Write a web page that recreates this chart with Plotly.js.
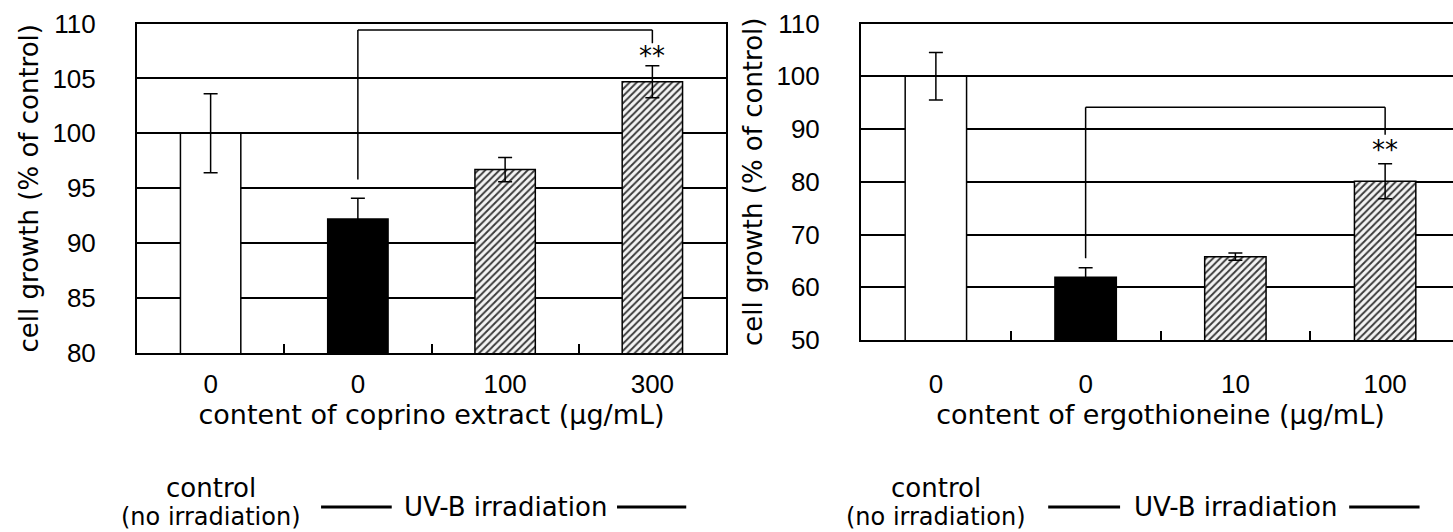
<!DOCTYPE html>
<html><head><meta charset="utf-8">
<script src="https://cdn.plot.ly/plotly-3.0.1.min.js"></script>
<style>html,body{margin:0;padding:0;overflow:hidden;background:#fff}#chart{width:1470px;height:532px}</style>
</head><body><div id="chart"></div>
<script>
// ---- data: left panel (coprino extract) ----
const categoriesA = ['control', 'UV 0', 'UV 100', 'UV 300'];
const tickLabelsA = ['0', '0', '100', '300'];
const valuesA = [100, 92.2, 96.7, 104.7];
const errorsA = [3.6, 1.9, 1.1, 1.45];
const bracketYA = [95.8, 109.4, 108.2];
const starYA = 107.0;

// ---- data: right panel (ergothioneine) ----
const categoriesB = ['control', 'UV 0', 'UV 10', 'UV 100'];
const tickLabelsB = ['0', '0', '10', '100'];
const valuesB = [100, 61.9, 65.8, 80.1];
const errorsB = [4.5, 1.8, 0.7, 3.3];
const bracketYB = [65.5, 94.1, 88.9];
const starYB = 86.1;

const yTitle = 'cell growth (% of control)';
const xTitleA = 'content of coprino extract (μg/mL)';
const xTitleB = 'content of ergothioneine (μg/mL)';

const W = 1470, H = 532;
const TXT = 'DejaVu Sans';
const NUM = 'Liberation Sans';

// one trace per bar style: control (white), UV only (black), UV + sample (hatched)
function barTraces(cats, vals, errs, xa, ya) {
  const styles = [
    {idx: [0], marker: {color: '#ffffff', line: {color: '#000', width: 1.5}}},
    {idx: [1], marker: {color: '#000000', line: {color: '#000', width: 1.5}}},
    {idx: [2, 3], marker: {color: '#ffffff', line: {color: '#000', width: 1.5},
      pattern: {shape: '/', fgcolor: '#3a3a3a', bgcolor: '#f4f4f4', size: 5, solidity: 0.38, fillmode: 'replace'}}}
  ];
  return styles.map(s => ({
    type: 'bar', x: s.idx.map(i => cats[i]), y: s.idx.map(i => vals[i]),
    xaxis: xa, yaxis: ya, width: 0.41, marker: s.marker,
    error_y: {type: 'data', array: s.idx.map(i => errs[i]), visible: true, color: '#000', thickness: 1.5, width: 7},
    showlegend: false, hoverinfo: 'skip'
  }));
}

function xAxis(dom, cats, labels, title, standoff) {
  return {
    domain: dom, type: 'category', categoryarray: cats, categoryorder: 'array', range: [-0.5, 3.5],
    tickmode: 'array', tickvals: cats, ticktext: labels, tickson: 'boundaries',
    ticks: 'inside', ticklen: 9, tickwidth: 2, tickcolor: '#000',
    showline: true, linecolor: '#000', linewidth: 2, mirror: true,
    showgrid: false, zeroline: false, fixedrange: true,
    tickfont: {family: NUM, size: 26, color: '#000'}, ticklabelstandoff: standoff,
    title: {text: title, font: {family: TXT, size: 27, color: '#000'}, standoff: 0}
  };
}

function yAxis(dom, range, dtick) {
  return {
    domain: dom, range: range, dtick: dtick, tick0: range[0],
    showgrid: true, gridcolor: '#000', gridwidth: 2,
    showline: true, linecolor: '#000', linewidth: 2, mirror: true,
    ticks: '', zeroline: false, fixedrange: true,
    tickfont: {family: NUM, size: 26, color: '#000'}, ticklabelstandoff: 34,
    title: {text: yTitle, font: {family: TXT, size: 26, color: '#000'}, standoff: 6}
  };
}

function bracket(cats, by, xr, yr) {
  const ln = {color: '#000', width: 1.5};
  return [
    {type: 'line', xref: xr, yref: yr, x0: cats[1], x1: cats[1], y0: by[0], y1: by[1], line: ln},
    {type: 'line', xref: xr, yref: yr, x0: cats[1], x1: cats[3], y0: by[1], y1: by[1], line: ln},
    {type: 'line', xref: xr, yref: yr, x0: cats[3], x1: cats[3], y0: by[1], y1: by[2], line: ln}
  ];
}

function groupLabels(cats, xr) {
  const f = {family: TXT, size: 26, color: '#000'};
  return [
    {xref: xr, yref: 'paper', x: cats[0], y: (H - 488) / H, text: 'control', showarrow: false, font: f, yanchor: 'middle'},
    {xref: xr, yref: 'paper', x: cats[0], y: (H - 517) / H, text: '(no irradiation)', showarrow: false, font: {family: TXT, size: 24, color: '#000'}, yanchor: 'middle'},
    {xref: xr, yref: 'paper', x: cats[2], y: (H - 507) / H, text: 'UV-B irradiation', showarrow: false, font: f, yanchor: 'middle'}
  ];
}
function groupLines(xr) {
  const ln = {color: '#000', width: 3};
  const y = (H - 507) / H;
  return [
    {type: 'line', xref: xr, yref: 'paper', x0: 0.75, x1: 1.23, y0: y, y1: y, line: ln},
    {type: 'line', xref: xr, yref: 'paper', x0: 2.76, x1: 3.23, y0: y, y1: y, line: ln}
  ];
}

const data = [].concat(
  barTraces(categoriesA, valuesA, errorsA, 'x', 'y'),
  barTraces(categoriesB, valuesB, errorsB, 'x2', 'y2')
);

const layout = {
  width: W, height: H, margin: {l: 0, r: 0, t: 0, b: 0}, barmode: 'overlay',
  paper_bgcolor: '#fff', plot_bgcolor: '#fff',
  xaxis: Object.assign(xAxis([137 / W, 726 / W], categoriesA, tickLabelsA, xTitleA, 7), {anchor: 'y'}),
  yaxis: Object.assign(yAxis([(H - 353) / H, (H - 23.5) / H], [80, 110], 5), {anchor: 'x'}),
  xaxis2: Object.assign(xAxis([861 / W, 1460 / W], categoriesB, tickLabelsB, xTitleB, 20), {anchor: 'y2'}),
  yaxis2: Object.assign(yAxis([(H - 340) / H, (H - 23.5) / H], [50, 110], 10), {anchor: 'x2'}),
  shapes: [].concat(bracket(categoriesA, bracketYA, 'x', 'y'), bracket(categoriesB, bracketYB, 'x2', 'y2'), groupLines('x'), groupLines('x2')),
  annotations: [
    {xref: 'x', yref: 'y', x: categoriesA[3], y: starYA, text: '**', showarrow: false, font: {family: TXT, size: 26, color: '#000'}},
    {xref: 'x2', yref: 'y2', x: categoriesB[3], y: starYB, text: '**', showarrow: false, font: {family: TXT, size: 26, color: '#000'}}
  ].concat(groupLabels(categoriesA, 'x'), groupLabels(categoriesB, 'x2'))
};

Plotly.newPlot('chart', data, layout, {staticPlot: true, displayModeBar: false});
</script></body></html>
